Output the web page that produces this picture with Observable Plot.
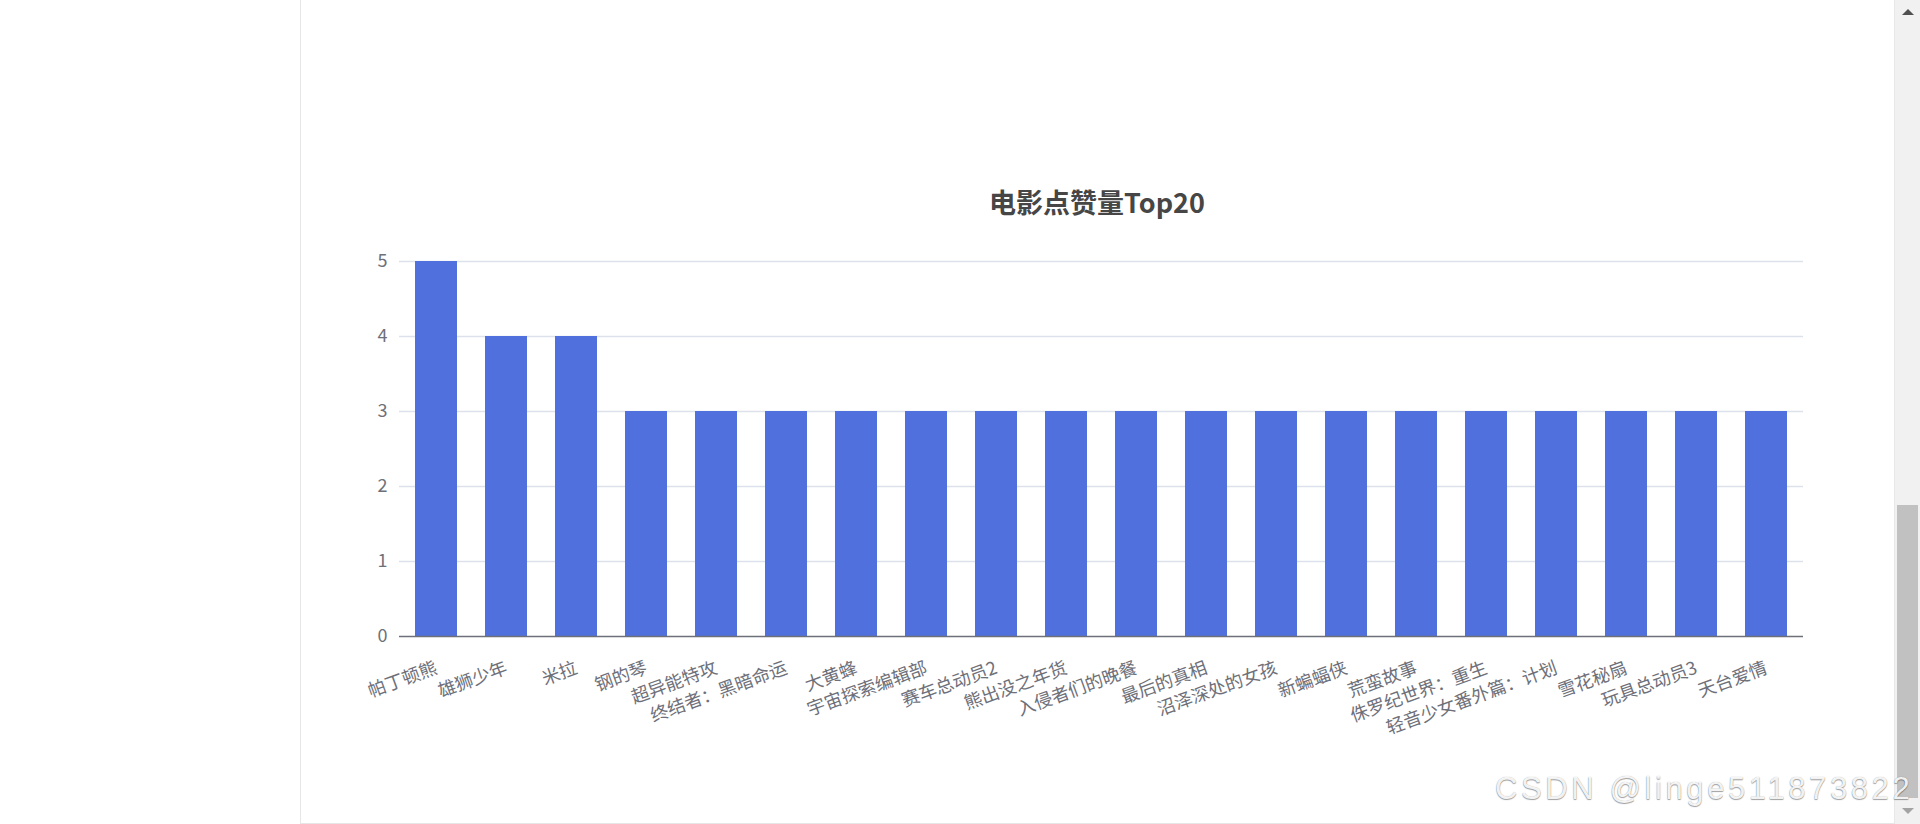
<!DOCTYPE html>
<html>
<head>
<meta charset="utf-8">
<script src="https://cdn.jsdelivr.net/npm/d3@7"></script>
<script src="https://cdn.jsdelivr.net/npm/@observablehq/plot@0.6"></script>
<style>
  html, body { margin: 0; padding: 0; background: #fff; overflow: hidden; }
  #page { position: relative; width: 1920px; height: 824px; overflow: hidden; }
  #frame { position: absolute; left: 300px; top: -1px; width: 1594px; height: 825px;
           border-left: 1px solid #e6e6e6; border-bottom: 1px solid #e6e6e6; box-sizing: border-box; }
  #chart { position: absolute; left: 0; top: 0; }
  #title { position: absolute; left: 0; width: 2194px; top: 185px; text-align: center;
           font-family: "Noto Sans CJK SC", "Noto Sans", sans-serif; font-weight: bold;
           font-size: 27px; line-height: 34px; color: #464646; }
  #track { position: absolute; left: 1894px; top: 0; width: 26px; height: 824px; background: #f1f1f1;
           border-left: 1px solid #e8e8e8; box-sizing: border-box; }
  #thumb { position: absolute; left: 1897px; top: 505px; width: 21px; height: 293px; background: #c1c1c1; }
  .arrow { position: absolute; width: 0; height: 0; border-left: 6px solid transparent; border-right: 6px solid transparent; }
  #up { left: 1902px; top: 9px; border-bottom: 6px solid #505050; }
  #down { left: 1902px; top: 808px; border-top: 6px solid #a3a3a3; }
  #mark { position: absolute; left: 1495px; top: 771px; font-family: "Liberation Sans", Arial, sans-serif;
          font-size: 31px; line-height: 36px; letter-spacing: 3.6px; white-space: nowrap;
          color: rgba(255,255,255,0.92);
          text-shadow: 0 1px 1px rgba(0,0,0,0.35), 0 0 1px rgba(0,0,0,0.35); }
</style>
</head>
<body>
<div id="page">
  <div id="frame"></div>
  <div id="chart"></div>
  <div id="title">电影点赞量Top20</div>
  <div id="track"></div>
  <div id="thumb"></div>
  <div id="up" class="arrow"></div>
  <div id="down" class="arrow"></div>
  <div id="mark">CSDN @linge511873822</div>
</div>
<script>
const movies = ["帕丁顿熊", "雄狮少年", "米拉", "钢的琴", "超异能特攻", "终结者：黑暗命运", "大黄蜂",
  "宇宙探索编辑部", "赛车总动员2", "熊出没之年货", "入侵者们的晚餐", "最后的真相", "沼泽深处的女孩",
  "新蝙蝠侠", "荒蛮故事", "侏罗纪世界：重生", "轻音少女番外篇：计划", "雪花秘扇", "玩具总动员3", "天台爱情"];
const likes = [5, 4, 4, 3, 3, 3, 3, 3, 3, 3, 3, 3, 3, 3, 3, 3, 3, 3, 3, 3];
const yTicks = [0, 1, 2, 3, 4, 5];

const data = movies.map((name, i) => ({name, likes: likes[i]}));
const font = '"Noto Sans CJK SC", "Noto Sans", sans-serif';

const chart = Plot.plot({
  width: 1920,
  height: 824,
  marginLeft: 399,
  marginRight: 117,
  marginTop: 261,
  marginBottom: 188,
  style: {fontFamily: font, fontSize: "18px", color: "#6E7079", background: "transparent", overflow: "visible"},
  x: {domain: movies, paddingInner: 0.4, paddingOuter: 0.2, axis: null},
  y: {domain: [0, 5], axis: null},
  marks: [
    Plot.ruleY(yTicks.filter(d => d > 0), {stroke: "#DCE1EC", strokeWidth: 1.5}),
    Plot.barY(data, {x: "name", y: "likes", fill: "#5070dd"}),
    Plot.ruleY([0], {stroke: "#6E7079", strokeWidth: 1.5}),
    Plot.text(yTicks, {y: d => d, text: d => String(d), frameAnchor: "left", dx: -12,
      textAnchor: "end", lineAnchor: "middle", fill: "#6E7079", fontSize: 18}),
    Plot.text(movies, {x: d => d, text: d => d, frameAnchor: "bottom", dy: 31, rotate: -20,
      textAnchor: "end", lineAnchor: "middle", fill: "#6E7079", fontSize: 18})
  ]
});
document.getElementById("chart").appendChild(chart);
</script>
</body>
</html>
